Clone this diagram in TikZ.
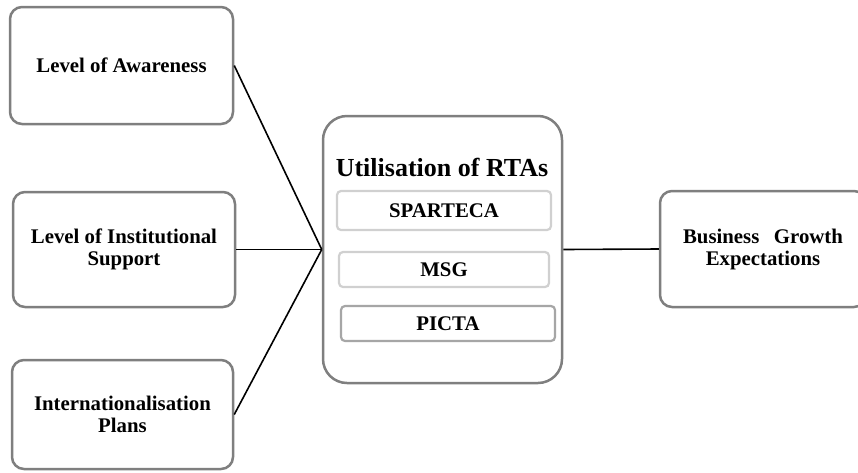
\documentclass[tikz,border=0pt]{standalone}
\usepackage{fontspec}
\setmainfont{Liberation Serif}
\usepackage{xcolor}
\usepackage{tikz}

\definecolor{boxgray}{HTML}{7F7F7F}
\definecolor{litegray}{HTML}{D0D0D0}
\definecolor{midgray}{HTML}{A6A6A6}

\begin{document}
\begin{tikzpicture}[x=1pt, y=-1pt,
		factor/.style={draw=boxgray, line width=2.5pt, rounded corners=12pt, fill=white,
			inner sep=0pt, align=center, font=\fontsize{20.8}{22}\selectfont\bfseries},
		agreement/.style={draw=litegray, line width=2.2pt, rounded corners=4pt,
			inner sep=0pt, font=\fontsize{20.8}{22}\selectfont\bfseries},
		link/.style={line width=1.6pt, black}]
		\useasboundingbox (0,0) rectangle (858,472);

		\node[factor, minimum width=223pt, minimum height=117pt] (aware) at (121.5,65.5) {Level of Awareness};
		\node[factor, minimum width=222pt, minimum height=115pt] (support) at (124,249.5) {Level of Institutional\\Support};
		\node[factor, minimum width=221pt, minimum height=109pt] (plans) at (122.5,414.5) {Internationalisation\\Plans};

		\node[factor, rounded corners=24pt, minimum width=239pt, minimum height=267pt] (util) at (442.5,249.5) {};
		\node[font=\fontsize{26}{28}\selectfont\bfseries] (title) at (442,167) {Utilisation of RTAs};
		\node[agreement, minimum width=214pt, minimum height=39pt] (sparteca) at (444,210.5) {SPARTECA};
		\node[agreement, minimum width=210pt, minimum height=35pt] (msg) at (444,269.5) {MSG};
		\node[agreement, draw=midgray, minimum width=214pt, minimum height=35pt] (picta) at (448,323.5) {PICTA};

		\node[factor, minimum width=206pt, minimum height=116pt] (growth) at (763,249) {Business\hspace{0.7em}Growth\\Expectations};

		\draw[link] (aware.east) -- (util.west);
		\draw[link] (support.east) -- (util.west);
		\draw[link] (plans.east) -- (util.west);
		\draw[link] (util.east) -- (growth.west);
	\end{tikzpicture}
\end{document}
